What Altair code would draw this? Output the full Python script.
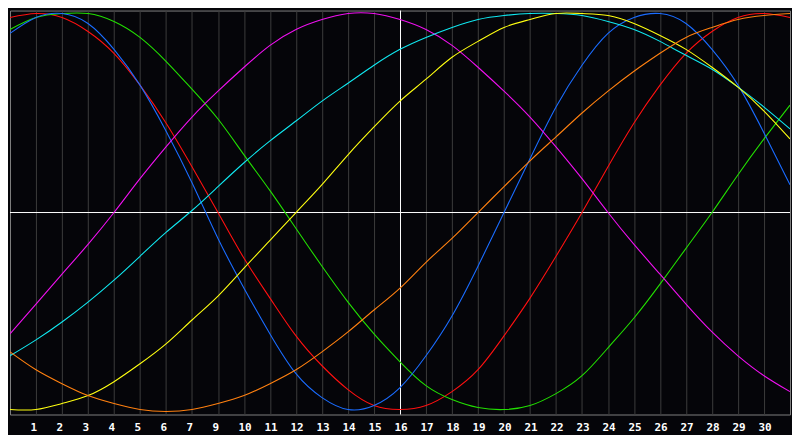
import altair as alt
import pandas as pd

# x positions across the plot (0 = left edge, 30 = right edge)
days = list(range(31))

# tick labels under the grid lines 1..29 (the reference has no "8")
tick_positions = list(range(1, 30))
tick_labels = ["1", "2", "3", "4", "5", "6", "7", "9", "10", "11", "12", "13",
               "14", "15", "16", "17", "18", "19", "20", "21", "22", "23",
               "24", "25", "26", "27", "28", "29", "30"]
today_pos = 15

# cycle values in percent at each grid position
red = [98, 100, 98, 91, 80, 64, 45, 23, 0, -23, -43, -62, -77, -89, -97, -99,
       -97, -90, -79, -62, -43, -22, 0, 23, 45, 64, 80, 91, 98, 100, 98]
green = [92, 98, 100, 100, 96, 88, 76, 62, 47, 29, 11, -8, -27, -45, -61, -75,
         -87, -94, -98, -99, -97, -91, -82, -68, -53, -36, -18, 0, 19, 37, 54]
blue = [90, 98, 100, 95, 82, 64, 41, 15, -13, -38, -61, -81, -93, -99, -97, -88,
        -72, -52, -27, 0, 27, 53, 74, 90, 98, 100, 95, 82, 64, 40, 14]
magenta = [-61, -46, -31, -16, 0, 17, 33, 48, 61, 73, 84, 92, 97, 100, 100, 97,
           92, 84, 73, 61, 48, 33, 17, 0, -16, -31, -46, -60, -72, -82, -90]
cyan = [-72, -64, -55, -45, -34, -22, -10, 1, 13, 25, 36, 46, 56, 65, 74, 82,
        88, 93, 97, 99, 100, 100, 99, 96, 92, 86, 79, 72, 63, 53, 42]
yellow = [-99, -99, -96, -92, -85, -76, -66, -54, -42, -28, -14, 0, 14, 29, 43, 56,
          67, 78, 86, 93, 97, 100, 100, 99, 95, 89, 82, 73, 63, 51, 37]
orange = [-70, -79, -86, -92, -96, -99, -100, -99, -96, -92, -86, -79, -70, -60, -49, -38,
          -25, -13, 0, 13, 26, 38, 50, 61, 71, 80, 88, 93, 97, 99, 100]

series = [
    (red, "#ff1010"),
    (green, "#22e000"),
    (blue, "#1a6cff"),
    (magenta, "#f010f0"),
    (cyan, "#10e8f0"),
    (yellow, "#ffff10"),
    (orange, "#ff8010"),
]

x_scale = alt.Scale(domain=[0, 30], nice=False, zero=False)
y_scale = alt.Scale(domain=[-101.5, 101.5], nice=False, zero=False)

label_expr = "[" + ",".join(f"'{t}'" for t in tick_labels) + "][datum.value - 1]"
x_axis = alt.Axis(
    values=tick_positions,
    labelExpr=label_expr,
    title=None,
    grid=True,
    gridColor="#3c3c3c",
    gridWidth=1,
    ticks=False,
    domain=False,
    labelColor="white",
    labelFont="DejaVu Sans Mono",
    labelFontWeight="bold",
    labelFontSize=11,
    labelAlign="left",
    labelOffset=-6,
    labelPadding=7,
    labelOverlap=False,
    labelFlush=False,
)

x_enc = alt.X("day:Q", scale=x_scale, axis=x_axis)

zero_line = (
    alt.Chart(pd.DataFrame({"level": [0]}))
    .mark_rule(color="white", strokeWidth=1)
    .encode(y=alt.Y("level:Q", scale=y_scale, axis=None))
)
today_line = (
    alt.Chart(pd.DataFrame({"day": [today_pos]}))
    .mark_rule(color="white", strokeWidth=1, xOffset=0.5)
    .encode(x=x_enc)
)

layers = [zero_line, today_line]
for values, color in series:
    df = pd.DataFrame({"day": days, "value": values})
    layers.append(
        alt.Chart(df)
        .mark_line(color=color, strokeWidth=1.1, interpolate="natural", clip=True)
        .encode(x=x_enc, y=alt.Y("value:Q", scale=y_scale, axis=None))
    )

chart = (
    alt.layer(*layers)
    .properties(
        width=782,
        height=405,
        background="#050509",
        padding={"left": 1, "top": 1, "right": 1, "bottom": 2},
    )
    .configure_view(stroke="#808080", strokeWidth=1, fill="#050509")
)

chart.save("out.html", embed_options={"renderer": "svg", "actions": False})
